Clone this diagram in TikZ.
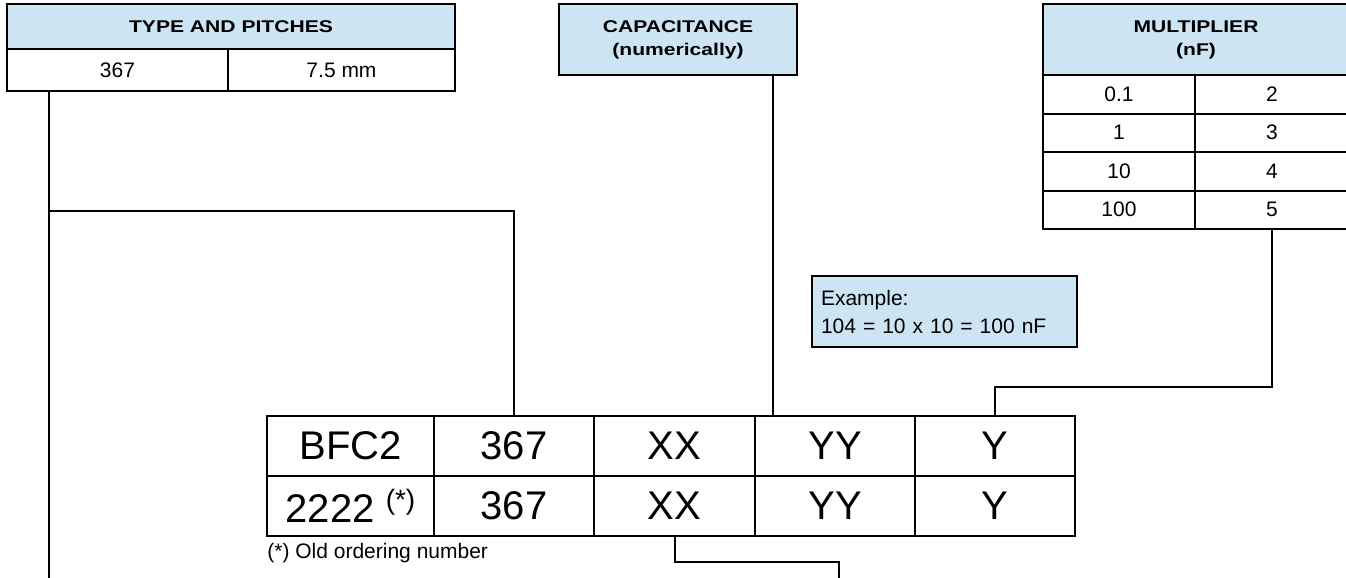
\documentclass[tikz,border=0pt]{standalone}
\usepackage{fontspec}
\setmainfont{Liberation Sans}
\newfontfamily\headfont[FakeStretch=1.24]{Liberation Sans}
\definecolor{hdblue}{RGB}{205,228,243}
\newcommand\oldmark{\raisebox{6.5pt}{\fontsize{14}{16}\selectfont(*)}}
\tikzset{
  cell/.style={draw, line width=1pt, rectangle, inner sep=0pt, font=\fontsize{10.5}{14}\selectfont},
  head/.style={cell, fill=hdblue, align=center, font=\headfont\bfseries\fontsize{8.5}{11.5}\selectfont},
  big/.style={cell, minimum height=30pt, font=\fontsize{20}{24}\selectfont},
  link/.style={line width=1pt}
}

\begin{document}
\begin{tikzpicture}[x=0.5pt, y=-0.5pt]
\clip (0,0) rectangle (1346,578);
% type and pitches
\node[head, minimum width=224pt, minimum height=22.5pt] (tph) at (231,26.5) {TYPE AND PITCHES};
\node[cell, minimum width=110.5pt, minimum height=21pt] (tpa) at (117.5,70) {367};
\node[cell, minimum width=113.5pt, minimum height=21pt] (tpb) at (341.5,70) {7.5 mm};
% capacitance
\node[head, minimum width=119pt, minimum height=35.5pt] (cap) at (678,39.5) {CAPACITANCE\\(numerically)};
% multiplier
\node[head, minimum width=153pt, minimum height=35.5pt] (mulh) at (1196,39.5) {MULTIPLIER\\(nF)};
\foreach \a/\b [count=\i] in {0.1/2, 1/3, 10/4, 100/5} {
  \node[cell, minimum width=76pt, minimum height=19.25pt] (ml\i a) at (1119,{94.25+38.5*(\i-1)}) {\a};
  \node[cell, minimum width=77pt, minimum height=19.25pt] (ml\i b) at (1272,{94.25+38.5*(\i-1)}) {\b};
}
% example
\node[cell, fill=hdblue, align=left, text width=123.5pt, inner xsep=4.5pt, minimum height=35.5pt] (ex) at (944.5,311.5) {Example:\\104 = 10 x 10 = 100 nF};
% code table
\foreach \x/\w/\ta/\tb [count=\i] in {350.5/83.5/BFC2/{2222 \oldmark}, 514/80/367/367, 674.5/80.5/XX/XX, 835/80/YY/YY, 995/80/Y/Y} {
  \node[big, minimum width=\w pt] (m1\i) at (\x,446) {\ta};
  \node[big, minimum width=\w pt] (m2\i) at (\x,506) {\tb};
}
\node[anchor=base west, inner sep=0pt, font=\fontsize{10.5}{12.6}\selectfont] (note) at (267,558) {(*) Old ordering number};
% connectors
\coordinate (bendA) at (49,211);
\coordinate (endA) at (49,578);
\coordinate (capx) at (773,0);
\coordinate (bendY) at (995,387);
\coordinate (bendX) at (839,562);
\coordinate (endX) at (839,578);
\draw[link] (tpa.south -| endA) -- (endA);
\draw[link] (bendA) -| (m12.north);
\draw[link] (cap.south -| capx) -- (m14.north -| capx);
\draw[link] (ml4b.south) |- (bendY) -- (m15.north);
\draw[link] (m23.south) |- (bendX) -- (endX);
\end{tikzpicture}
\end{document}
